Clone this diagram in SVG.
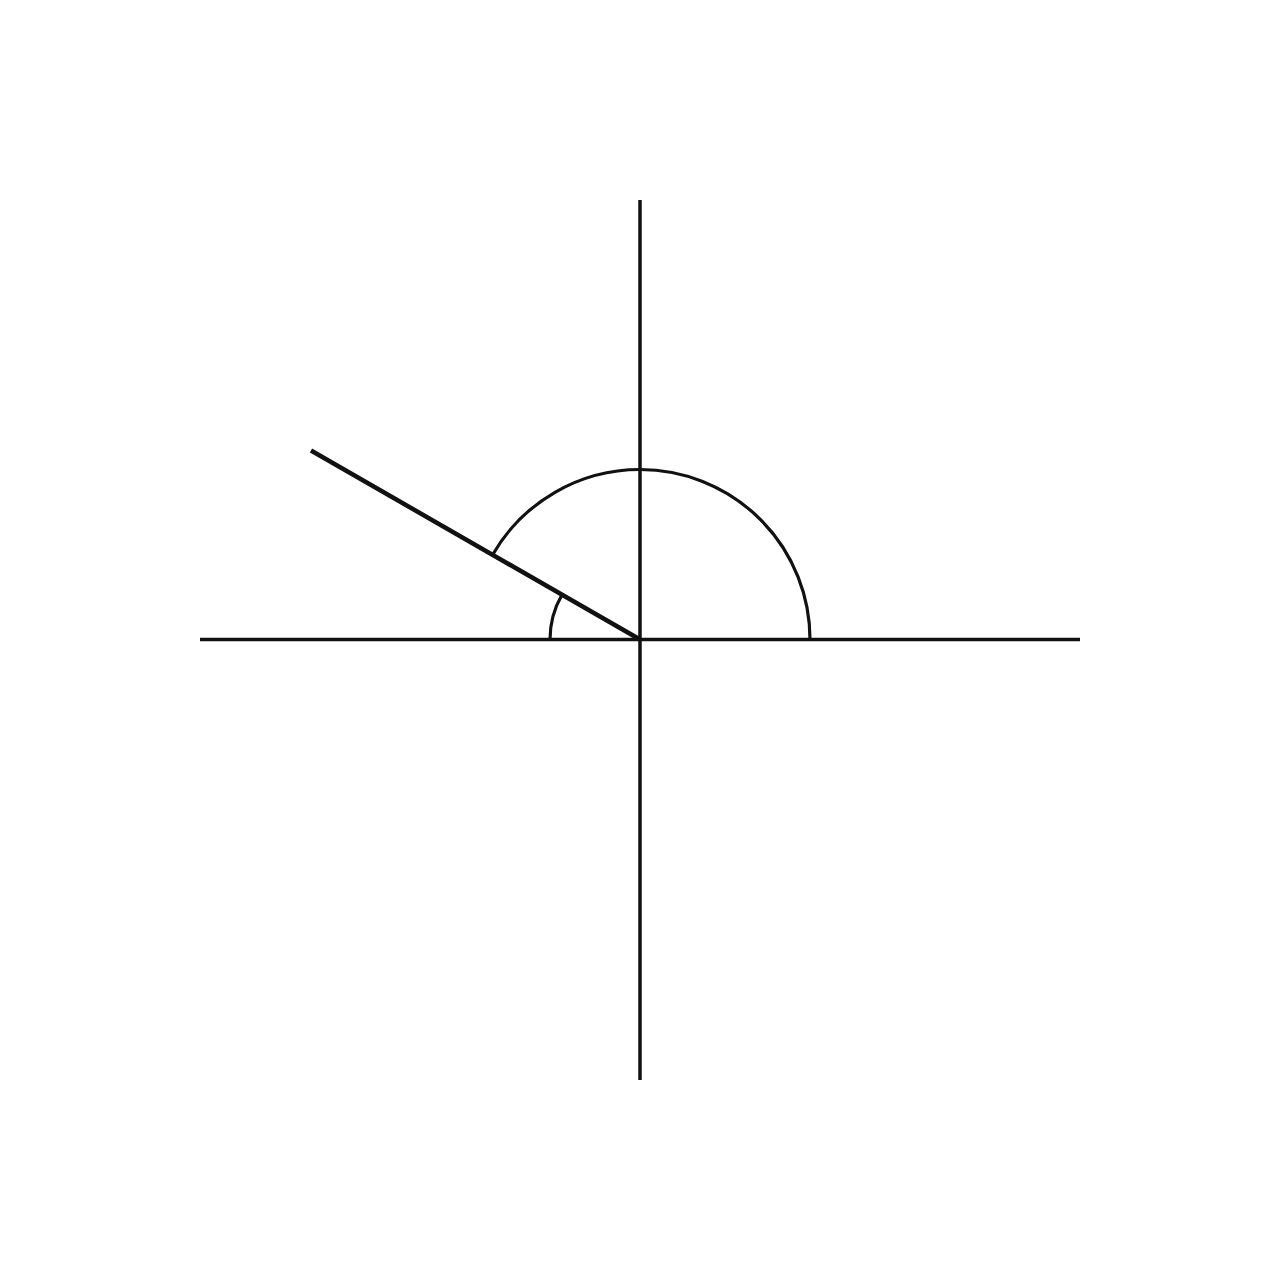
<svg xmlns="http://www.w3.org/2000/svg" width="1280" height="1280" viewBox="0 0 1280 1280">
<style>
.ax{stroke:#111;stroke-width:3.5;fill:none}
.ray{stroke:#111;stroke-width:4.5;fill:none}
.arc{stroke:#111;stroke-width:3.2;fill:none}
</style>
<rect width="1280" height="1280" fill="#fff"/>
<g id="axes">
<line class="ax" x1="200" y1="639.5" x2="1080" y2="639.5"/>
<line class="ax" x1="640" y1="200" x2="640" y2="1080"/>
</g>
<g id="ray">
<line class="ray" x1="640" y1="639.5" x2="311" y2="450.5"/>
</g>
<g id="arcs">
<path class="arc" d="M810 639.5 A170 170 0 0 0 640 469.5 A170 170 0 0 0 492.8 554.5"/>
<path class="arc" d="M550 639.5 A90 90 0 0 1 562.1 594.5"/>
</g>
</svg>
